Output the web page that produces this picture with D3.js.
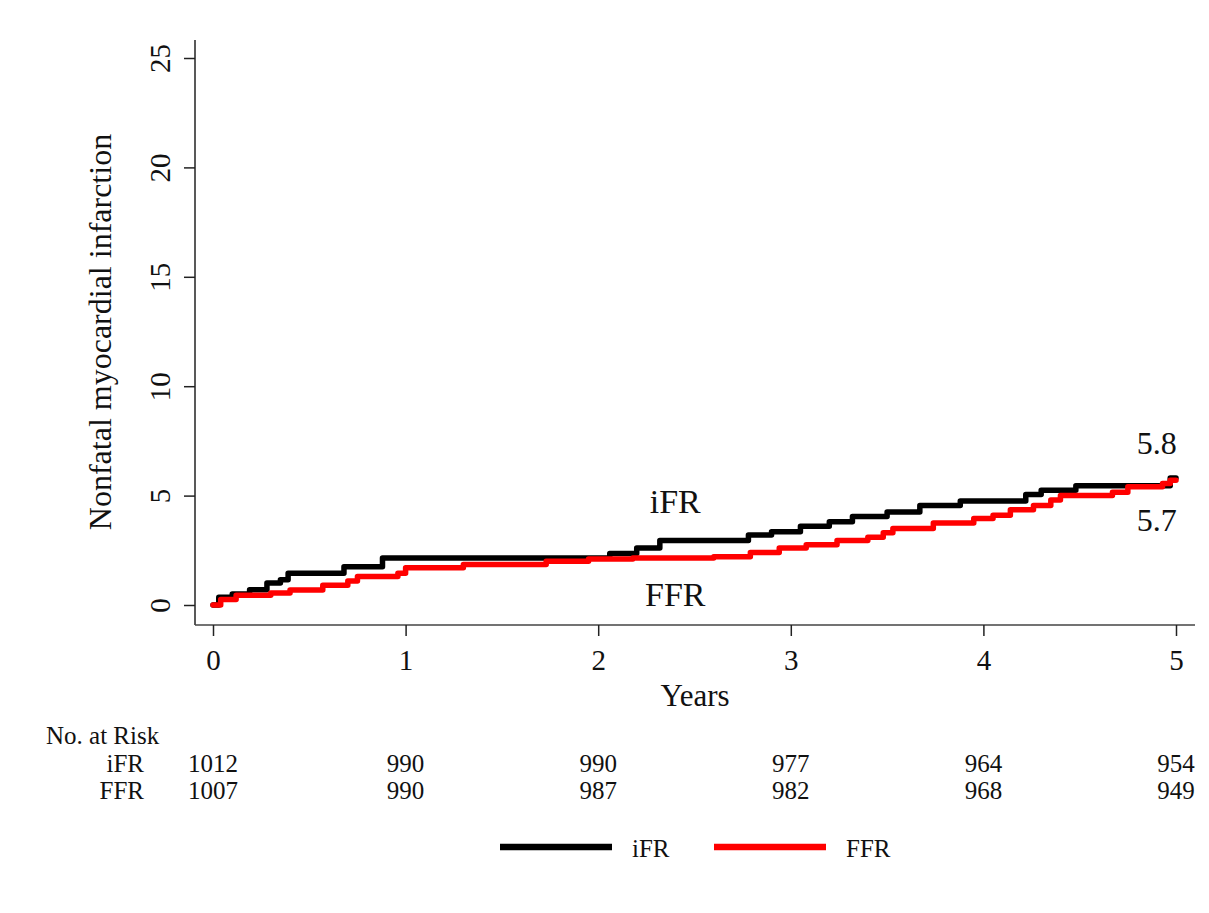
<!DOCTYPE html>
<html lang="en">
  <head>
    <meta charset="UTF-8" />
    <title>Nonfatal myocardial infarction - iFR vs FFR</title>
    <script src="https://d3js.org/d3.v7.min.js"></script>
    <style>
      body { margin: 0; background: #fff; }
      svg text { font-family: "Liberation Serif", "Times New Roman", serif; fill: #111; }
      .axis path, .axis line { stroke: #222; stroke-width: 1.5; }
    </style>
  </head>
  <body>
    <div id="chart"></div>
    <script>
      // cumulative incidence (%), step after each time
      const ifrTimes = [0, 0.03, 0.1, 0.19, 0.28, 0.35, 0.39, 0.68, 0.88, 2.06, 2.2, 2.32, 2.78, 2.9, 3.05, 3.2, 3.32, 3.5, 3.67, 3.88, 4.22, 4.3, 4.48, 4.97, 5.0];
      const ifrValues = [0, 0.35, 0.5, 0.7, 1.0, 1.15, 1.45, 1.75, 2.15, 2.35, 2.6, 2.95, 3.2, 3.35, 3.6, 3.8, 4.05, 4.25, 4.55, 4.75, 5.05, 5.25, 5.45, 5.8, 5.8];
      const ffrTimes = [0, 0.04, 0.12, 0.3, 0.4, 0.57, 0.7, 0.75, 0.96, 1.0, 1.3, 1.73, 1.95, 2.18, 2.6, 2.79, 2.94, 3.08, 3.24, 3.4, 3.48, 3.53, 3.74, 3.95, 4.05, 4.14, 4.26, 4.35, 4.4, 4.67, 4.75, 4.93, 4.97, 5.0];
      const ffrValues = [0, 0.25, 0.45, 0.55, 0.68, 0.9, 1.1, 1.3, 1.45, 1.7, 1.85, 2.0, 2.1, 2.15, 2.2, 2.4, 2.6, 2.75, 2.95, 3.1, 3.3, 3.5, 3.75, 3.95, 4.1, 4.35, 4.55, 4.8, 5.0, 5.15, 5.4, 5.55, 5.7, 5.7];

      const xTicks = [0, 1, 2, 3, 4, 5];
      const yTicks = [0, 5, 10, 15, 20, 25];
      const riskIfr = [1012, 990, 990, 977, 964, 954];
      const riskFfr = [1007, 990, 987, 982, 968, 949];
      const seriesNames = ["iFR", "FFR"];
      const seriesColors = ["#000000", "#ff0000"];

      const width = 1209;
      const height = 913;

      const svg = d3.select("#chart").append("svg").attr("width", width).attr("height", height);

      const x = d3.scaleLinear().domain([0, 5]).range([213, 1176]);
      const y = d3.scaleLinear().domain([0, 25]).range([605, 58]);

      const plotLeft = 195, plotRight = 1195, plotTop = 40, plotBottom = 625;

      // axis frame (left and bottom only)
      svg.append("line").attr("x1", plotLeft).attr("x2", plotLeft).attr("y1", plotTop).attr("y2", plotBottom)
        .attr("stroke", "#222").attr("stroke-width", 1.5);
      svg.append("line").attr("x1", plotLeft).attr("x2", plotRight).attr("y1", plotBottom).attr("y2", plotBottom)
        .attr("stroke", "#444").attr("stroke-width", 1.5);

      // x axis
      const xAxis = svg.append("g").attr("class", "axis").attr("transform", `translate(0,${plotBottom})`)
        .call(d3.axisBottom(x).tickValues(xTicks).tickSize(11).tickPadding(13).tickFormat(d3.format("d")));
      xAxis.select(".domain").remove();
      xAxis.selectAll("text").attr("font-size", 29);

      // y axis with rotated labels
      const yAxis = svg.append("g").attr("class", "axis").attr("transform", `translate(${plotLeft},0)`)
        .call(d3.axisLeft(y).tickValues(yTicks).tickSize(11).tickFormat(d3.format("d")));
      yAxis.select(".domain").remove();
      yAxis.selectAll("text")
        .attr("font-size", 29)
        .attr("text-anchor", "middle")
        .attr("dy", null)
        .attr("x", null)
        .attr("transform", "translate(-35,0) rotate(-90)")
        .attr("dominant-baseline", "central");

      svg.append("text").attr("transform", "translate(100,332) rotate(-90)")
        .attr("text-anchor", "middle").attr("dominant-baseline", "central")
        .attr("font-size", 32).text("Nonfatal myocardial infarction");

      svg.append("text").attr("x", 695).attr("y", 706).attr("text-anchor", "middle")
        .attr("font-size", 31).text("Years");

      // curves
      const line = d3.line().x((d) => x(d[0])).y((d) => y(d[1])).curve(d3.curveStepAfter);
      const series = [
        d3.zip(ifrTimes, ifrValues),
        d3.zip(ffrTimes, ffrValues),
      ];
      series.forEach((pts, i) => {
        svg.append("path").datum(pts).attr("d", line)
          .attr("fill", "none").attr("stroke", seriesColors[i])
          .attr("stroke-width", 5.5).attr("stroke-linejoin", "round").attr("stroke-linecap", "round");
      });

      // in-plot annotations
      const note = (tx, ty, label, size) =>
        svg.append("text").attr("x", x(tx)).attr("y", y(ty)).attr("text-anchor", "middle")
          .attr("dominant-baseline", "central").attr("font-size", size).text(label);
      note(2.4, 4.75, "iFR", 34);
      note(2.4, 0.5, "FFR", 34);
      note(4.9, 7.4, ifrValues[ifrValues.length - 1].toFixed(1), 32);
      note(4.9, 3.9, ffrValues[ffrValues.length - 1].toFixed(1), 32);

      // number at risk table
      svg.append("text").attr("x", 46).attr("y", 744).attr("font-size", 25).text("No. at Risk");
      [riskIfr, riskFfr].forEach((row, r) => {
        const ry = 772 + r * 27;
        svg.append("text").attr("x", 144).attr("y", ry).attr("text-anchor", "end")
          .attr("font-size", 25).text(seriesNames[r]);
        svg.selectAll(null).data(row).enter().append("text")
          .attr("x", (d, i) => x(xTicks[i]))
          .attr("y", ry)
          .attr("text-anchor", "middle")
          .attr("font-size", 25)
          .text((d) => d);
      });

      // legend
      const legend = svg.append("g");
      const legendX = [500, 714];
      seriesNames.forEach((name, i) => {
        legend.append("line").attr("x1", legendX[i]).attr("x2", legendX[i] + 112)
          .attr("y1", 847).attr("y2", 847).attr("stroke", seriesColors[i]).attr("stroke-width", 6.5);
        legend.append("text").attr("x", legendX[i] + 132).attr("y", 848)
          .attr("dominant-baseline", "central").attr("font-size", 25).text(name);
      });
    </script>
  </body>
</html>
